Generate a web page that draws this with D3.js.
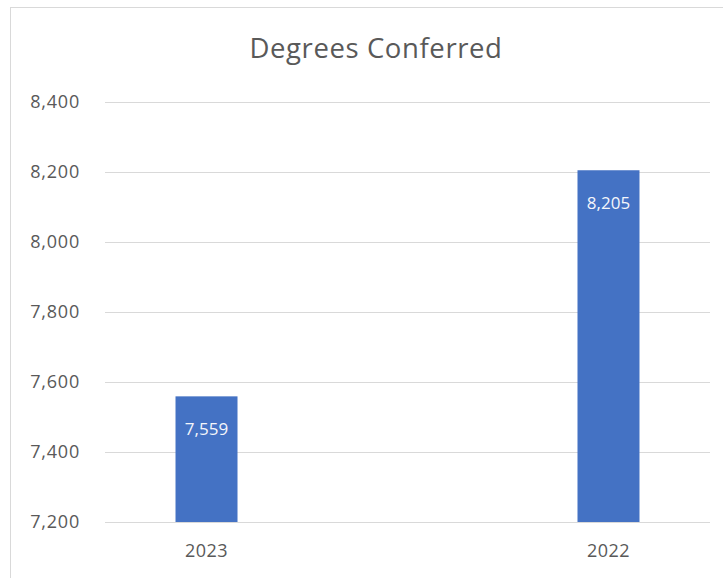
<!DOCTYPE html>
<html><head><meta charset="utf-8">
<script src="https://cdn.jsdelivr.net/npm/d3@7"></script>
<style>body{margin:0;background:#fff;} svg{display:block;font-family:"Open Sans",Lato,sans-serif;}</style>
</head><body>
<svg id="c" width="723" height="578"></svg>
<script>
const categories = ["2023", "2022"];
const values = [7559, 8205];
const yTicks = [7200, 7400, 7600, 7800, 8000, 8200, 8400];
const title = "Degrees Conferred";

(function () {
const svg = d3.select("#c");
const pLeft = 105, pRight = 710, pTop = 102, pBottom = 522;

// chart border (partially cropped)
svg.append("rect").attr("x", 10.5).attr("y", 7.5).attr("width", 760).attr("height", 600)
  .attr("fill", "none").attr("stroke", "#d9d9d9");

const y = d3.scaleLinear().domain([7200, 8400]).range([pBottom, pTop]);
const x = d3.scalePoint().domain(categories).range([pLeft, pRight]).padding(0.2525);

svg.append("text").attr("x", 376).attr("y", 58).attr("text-anchor", "middle")
  .attr("font-size", 27.5).attr("letter-spacing", 0.6).attr("fill", "#595959").text(title);

const yAxis = svg.append("g").attr("transform", `translate(${pLeft},0)`)
  .call(d3.axisLeft(y).tickValues(yTicks).tickFormat(d3.format(",")).tickSize(-(pRight-pLeft)).tickPadding(25));
yAxis.select(".domain").remove();
yAxis.selectAll("line").attr("stroke", "#d9d9d9");
yAxis.selectAll("text").attr("fill", "#595959").attr("font-size", 18)
  .attr("letter-spacing", 0.8).attr("font-family", "'Open Sans', sans-serif");

const bw = 62;
svg.selectAll(".bar").data(values).join("rect").attr("class", "bar")
  .attr("x", (d, i) => x(categories[i]) - bw / 2).attr("width", bw)
  .attr("y", d => y(d)).attr("height", d => pBottom - y(d)).attr("fill", "#4472c4");

svg.selectAll(".lbl").data(values).join("text").attr("class", "lbl")
  .attr("x", (d, i) => x(categories[i])).attr("y", d => y(d) + 39)
  .attr("text-anchor", "middle").attr("fill", "#f4f6fb").attr("font-size", 17)
  .text(d => d3.format(",")(d));

svg.selectAll(".cat").data(categories).join("text").attr("class", "cat")
  .attr("x", d => x(d)).attr("y", 557).attr("text-anchor", "middle")
  .attr("fill", "#595959").attr("font-size", 18).attr("letter-spacing", 0.5).text(d => d);
})();
</script>
</body></html>
